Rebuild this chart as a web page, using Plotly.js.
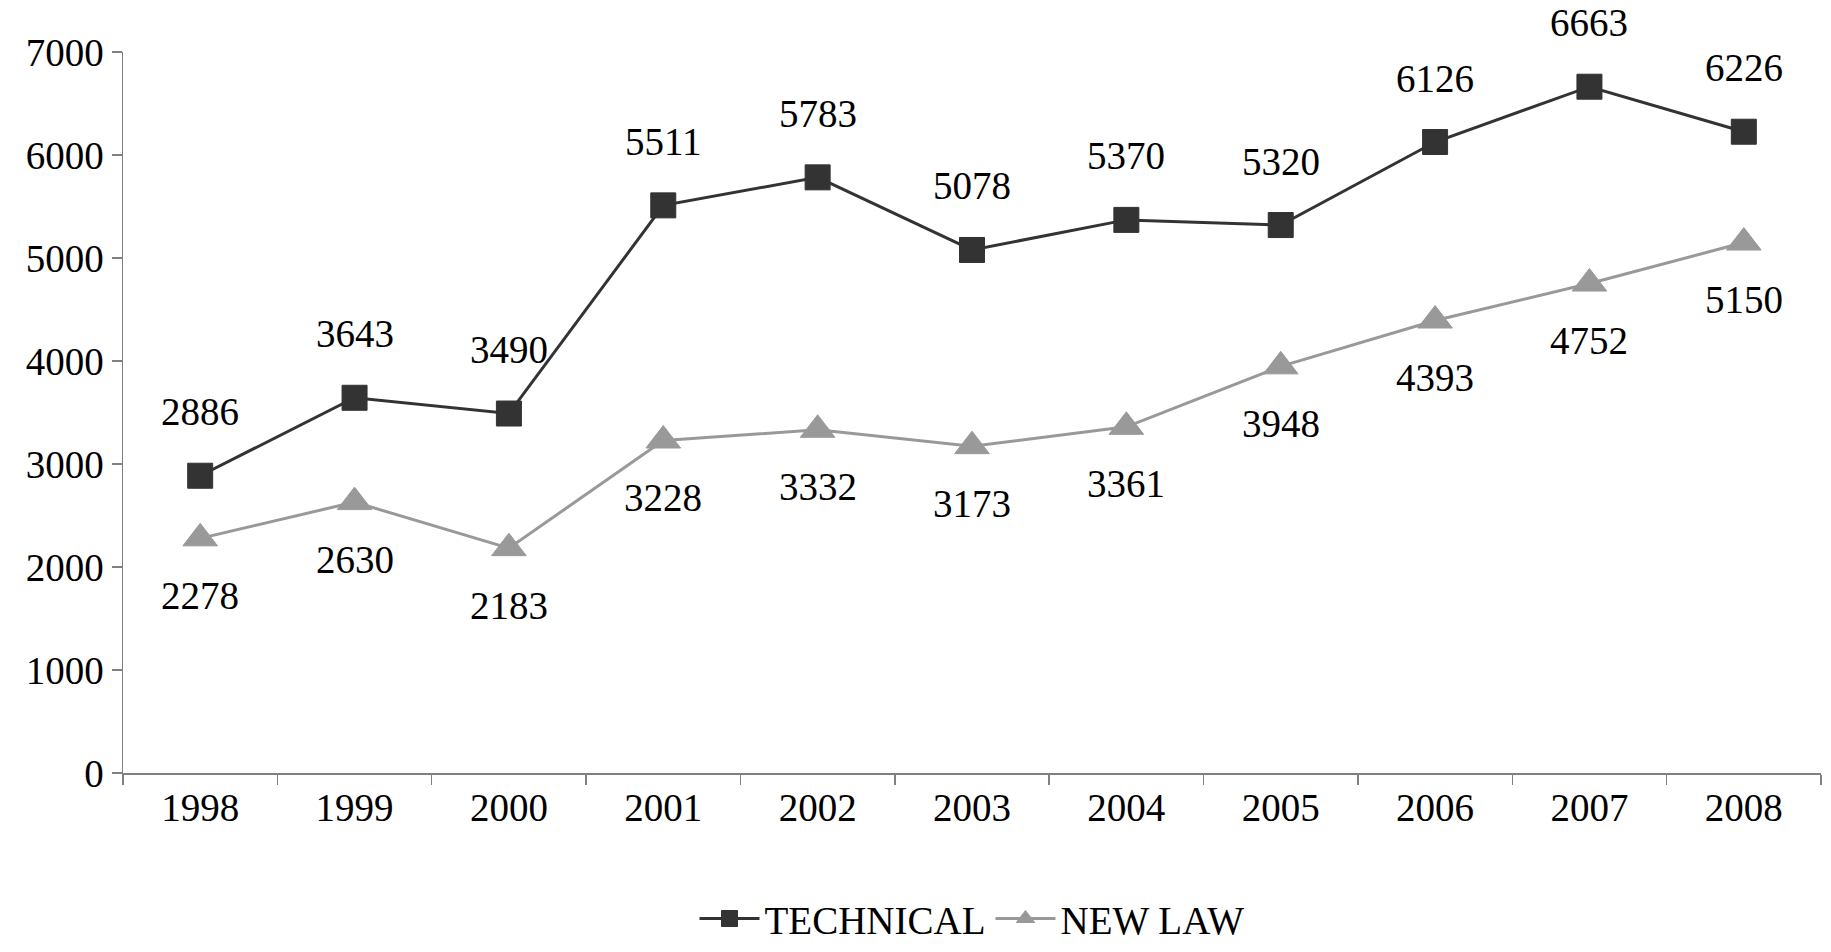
<!DOCTYPE html>
<html>
<head>
<meta charset="utf-8">
<script src="https://cdn.plot.ly/plotly-3.0.1.min.js"></script>
<style>html,body{margin:0;padding:0;background:#fff;}#chart{width:1831px;height:952px;}</style>
</head>
<body>
<div id="chart"></div>
<script>
const years = ["1998","1999","2000","2001","2002","2003","2004","2005","2006","2007","2008"];
const technical = [2886, 3643, 3490, 5511, 5783, 5078, 5370, 5320, 6126, 6663, 6226];
const newLaw = [2278, 2630, 2183, 3228, 3332, 3173, 3361, 3948, 4393, 4752, 5150];
const yTicks = [0, 1000, 2000, 3000, 4000, 5000, 6000, 7000];

const FONT = "Liberation Serif, Times New Roman, serif";

const traces = [
  {
    x: years, y: technical, name: "TECHNICAL", type: "scatter", mode: "lines+markers",
    line: {color: "#333333", width: 3},
    marker: {symbol: "square", size: 25, color: "#333333", line: {color: "#333333", width: 1}}
  },
  {
    x: years, y: newLaw, name: "NEW LAW", type: "scatter", mode: "lines+markers",
    line: {color: "#999999", width: 3},
    marker: {symbol: "triangle-up", size: 30, color: "#999999", line: {color: "#999999", width: 1}}
  }
];

const annotations = [];
years.forEach((yr, i) => {
  annotations.push({xref: "x", yref: "y", x: i, y: technical[i], text: String(technical[i]), showarrow: false,
    yshift: 64, font: {family: FONT, size: 39, color: "#000"}});
  annotations.push({xref: "x", yref: "y", x: i, y: newLaw[i], text: String(newLaw[i]), showarrow: false,
    yshift: -57, font: {family: FONT, size: 39, color: "#000"}});
});

const layout = {
  width: 1831, height: 952,
  margin: {l: 123, r: 10, t: 52, b: 179},
  paper_bgcolor: "#fff", plot_bgcolor: "#fff",
  font: {family: FONT, size: 39, color: "#000"},
  showlegend: true,
  legend: {orientation: "h", x: 0.5, xanchor: "center", yref: "container", y: 0.035, yanchor: "middle",
    font: {family: FONT, size: 39, color: "#000"}, itemwidth: 60},
  xaxis: {
    type: "category", range: [-0.5, 10.5], tickson: "boundaries",
    showline: true, linecolor: "#808080", linewidth: 1.5,
    ticks: "outside", ticklen: 10, tickcolor: "#808080", tickwidth: 1.5,
    showgrid: false, zeroline: false, fixedrange: true,
    tickfont: {family: FONT, size: 39, color: "#000"}
  },
  yaxis: {
    range: [0, 7000], tickvals: yTicks, ticktext: yTicks.map(String),
    showline: true, linecolor: "#808080", linewidth: 1.5,
    ticks: "outside", ticklen: 10, tickcolor: "#808080", tickwidth: 1.5,
    showgrid: false, zeroline: false,
    tickfont: {family: FONT, size: 39, color: "#000"}
  },
  annotations: annotations
};

Plotly.newPlot("chart", traces, layout, {displayModeBar: false, staticPlot: true});
</script>
</body>
</html>
